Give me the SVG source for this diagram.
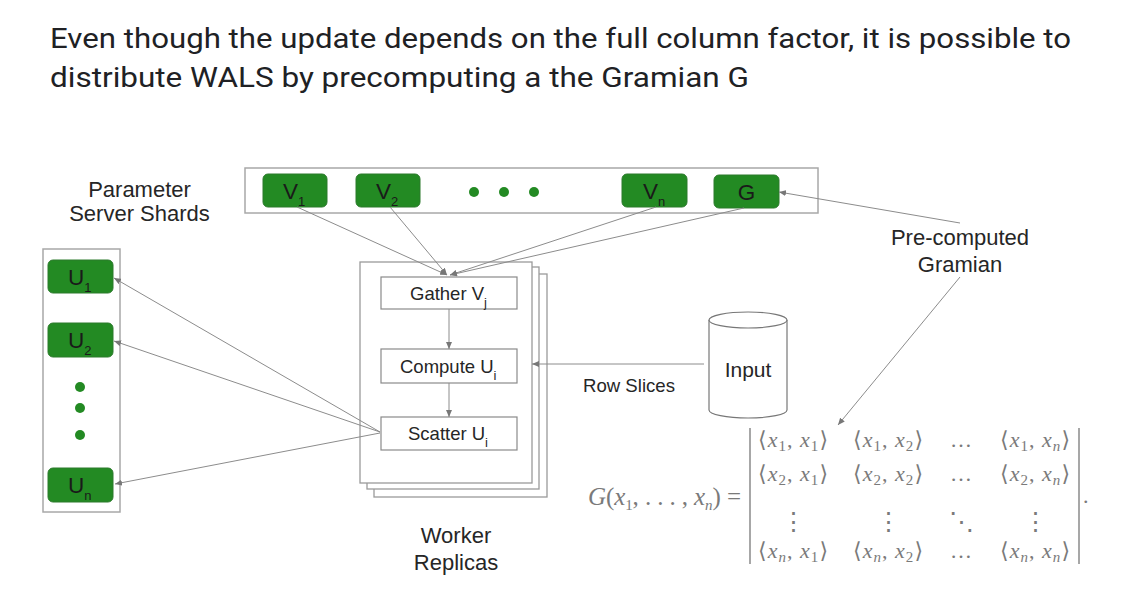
<svg xmlns="http://www.w3.org/2000/svg" width="1121" height="602" viewBox="0 0 1121 602">
<defs>
<style>
.title{font-family:Roboto,"Open Sans","Liberation Sans",sans-serif;font-size:27px;fill:#202124}
.lbl{font-family:"Liberation Sans",Arial,sans-serif;font-size:22px;fill:#262626}
.box{font-family:"Liberation Sans",Arial,sans-serif;font-size:18.5px;fill:#262626}
.gt{font-family:"Liberation Sans",Arial,sans-serif;font-size:22.5px;fill:#1a1a1a}
.sub{font-size:13px}
.green{fill:#238a23;stroke:#2d7a2d;stroke-width:1}
.frame{fill:none;stroke:#a8a8a8;stroke-width:1.5}
.page{fill:#fff;stroke:#9a9a9a;stroke-width:1.3}
.step{fill:#fff;stroke:#8a8a8a;stroke-width:1.2}
.dot{fill:#238a23}
.conn line{stroke:#8c8c8c;stroke-width:1;fill:none}
.m{font-family:"Liberation Serif","DejaVu Serif",serif;font-size:22px;fill:#7a7a7a}
.mi{font-style:italic}
.ms{font-size:15px}
.vd{font-family:"DejaVu Serif",serif;font-size:25px;fill:#7a7a7a}
.bar{stroke:#8a8a8a;stroke-width:1.5}
</style>
<marker id="ah" markerWidth="7" markerHeight="6" refX="7" refY="3" orient="auto" markerUnits="userSpaceOnUse">
<path d="M0,0 L7,3 L0,6 z" fill="#777"/>
</marker>
</defs>
<rect width="1121" height="602" fill="#fff"/>

<g id="title">
<text class="title" x="50" y="48" textLength="1021" lengthAdjust="spacingAndGlyphs">Even though the update depends on the full column factor, it is possible to</text>
<text class="title" x="50" y="87" textLength="699" lengthAdjust="spacingAndGlyphs">distribute WALS by precomputing a the Gramian G</text>
</g>

<g id="ps-label">
<text class="lbl" x="139.5" y="197" text-anchor="middle">Parameter</text>
<text class="lbl" x="139.5" y="221" text-anchor="middle">Server Shards</text>
</g>

<g id="v-shards">
<rect class="frame" x="245" y="168" width="573" height="45"/>
<g id="V1"><rect class="green" x="263" y="174" width="64" height="33" rx="5"/><text class="gt" x="283" y="199">V<tspan class="sub" dy="7">1</tspan></text></g>
<g id="V2"><rect class="green" x="356" y="174" width="64" height="33" rx="5"/><text class="gt" x="376" y="199">V<tspan class="sub" dy="7">2</tspan></text></g>
<g id="vdots"><circle class="dot" cx="474" cy="192" r="5"/><circle class="dot" cx="504" cy="192" r="5"/><circle class="dot" cx="534" cy="192" r="5"/></g>
<g id="Vn"><rect class="green" x="622" y="174" width="65" height="33" rx="5"/><text class="gt" x="643" y="199">V<tspan class="sub" dy="7">n</tspan></text></g>
<g id="G"><rect class="green" x="714" y="175" width="65" height="33" rx="5"/><text class="gt" x="746.5" y="200" text-anchor="middle">G</text></g>
</g>

<g id="u-shards">
<rect class="frame" x="43" y="249" width="77" height="263"/>
<g id="U1"><rect class="green" x="48" y="260" width="65" height="33" rx="5"/><text class="gt" x="68" y="285">U<tspan class="sub" dy="7">1</tspan></text></g>
<g id="U2"><rect class="green" x="48" y="323" width="65" height="34" rx="5"/><text class="gt" x="68" y="348">U<tspan class="sub" dy="7">2</tspan></text></g>
<g id="udots"><circle class="dot" cx="80" cy="387" r="5"/><circle class="dot" cx="80" cy="408" r="5"/><circle class="dot" cx="80" cy="435" r="5"/></g>
<g id="Un"><rect class="green" x="48" y="468" width="65" height="34" rx="5"/><text class="gt" x="68" y="493">U<tspan class="sub" dy="7">n</tspan></text></g>
</g>

<g id="workers">
<rect class="page" x="374" y="274" width="173" height="223"/>
<rect class="page" x="367" y="267" width="172" height="222"/>
<rect class="page" x="360" y="262" width="172" height="221"/>
<g id="gather"><rect class="step" x="381" y="277" width="136" height="32"/><text class="box" x="410" y="300">Gather V<tspan class="sub" dy="7">j</tspan></text></g>
<g id="compute"><rect class="step" x="381" y="349" width="136" height="34"/><text class="box" x="400" y="373">Compute U<tspan class="sub" dy="7">i</tspan></text></g>
<g id="scatter"><rect class="step" x="381" y="417" width="136" height="33"/><text class="box" x="408" y="440">Scatter U<tspan class="sub" dy="7">i</tspan></text></g>
</g>

<g id="worker-label">
<text class="lbl" x="456" y="543" text-anchor="middle">Worker</text>
<text class="lbl" x="456" y="570" text-anchor="middle">Replicas</text>
</g>

<g id="input">
<path d="M709,320 L709,410 A39,8 0 0 0 787,410 L787,320" fill="#fff" stroke="#777" stroke-width="1.2"/>
<ellipse cx="748" cy="320" rx="39" ry="8" fill="#fff" stroke="#777" stroke-width="1.2"/>
<text class="lbl" x="748" y="377" text-anchor="middle" style="font-size:21px">Input</text>
</g>

<g id="row-slices-label">
<text class="lbl" x="583" y="392" style="font-size:18.6px">Row Slices</text>
</g>

<g id="gramian-label">
<text class="lbl" x="960" y="245" text-anchor="middle">Pre-computed</text>
<text class="lbl" x="960" y="272" text-anchor="middle">Gramian</text>
</g>

<g id="connectors" class="conn">
<line x1="297" y1="207" x2="447" y2="275" marker-end="url(#ah)"/>
<line x1="390" y1="207" x2="447" y2="275" marker-end="url(#ah)"/>
<line x1="656" y1="207" x2="450" y2="275" marker-end="url(#ah)"/>
<line x1="744" y1="208" x2="450" y2="275" marker-end="url(#ah)"/>
<line x1="449" y1="309" x2="449" y2="349" marker-end="url(#ah)"/>
<line x1="449" y1="383" x2="449" y2="417" marker-end="url(#ah)"/>
<line x1="704" y1="364" x2="532" y2="364" marker-end="url(#ah)"/>
<line x1="380" y1="432" x2="114" y2="278" marker-end="url(#ah)"/>
<line x1="380" y1="432" x2="114" y2="341" marker-end="url(#ah)"/>
<line x1="380" y1="433" x2="115" y2="484" marker-end="url(#ah)"/>
<line x1="960" y1="223" x2="779" y2="192" marker-end="url(#ah)"/>
<line x1="960" y1="277" x2="838" y2="425" marker-end="url(#ah)"/>
</g>

<g id="gramian-matrix">
<text class="m" x="588" y="505" textLength="153" style="font-size:25px"><tspan class="mi">G</tspan>(<tspan class="mi">x</tspan><tspan class="ms" dy="5">1</tspan><tspan dy="-5">, . . . , </tspan><tspan class="mi">x</tspan><tspan class="ms mi" dy="5">n</tspan><tspan dy="-5">) =</tspan></text>
<line class="bar" x1="750" y1="428" x2="750" y2="564"/>
<line class="bar" x1="1079" y1="428" x2="1079" y2="564"/>
<text class="m" x="1083" y="503">.</text>

<text class="m" x="758" y="447" textLength="70">⟨<tspan class="mi">x</tspan><tspan class="ms" dy="4">1</tspan><tspan dy="-4">, </tspan><tspan class="mi">x</tspan><tspan class="ms" dy="4">1</tspan><tspan dy="-4">⟩</tspan></text>
<text class="m" x="853" y="447" textLength="70">⟨<tspan class="mi">x</tspan><tspan class="ms" dy="4">1</tspan><tspan dy="-4">, </tspan><tspan class="mi">x</tspan><tspan class="ms" dy="4">2</tspan><tspan dy="-4">⟩</tspan></text>
<text class="m" x="950" y="447" textLength="23">…</text>
<text class="m" x="1000" y="447" textLength="70">⟨<tspan class="mi">x</tspan><tspan class="ms" dy="4">1</tspan><tspan dy="-4">, </tspan><tspan class="mi">x</tspan><tspan class="ms mi" dy="4">n</tspan><tspan dy="-4">⟩</tspan></text>

<text class="m" x="758" y="481" textLength="70">⟨<tspan class="mi">x</tspan><tspan class="ms" dy="4">2</tspan><tspan dy="-4">, </tspan><tspan class="mi">x</tspan><tspan class="ms" dy="4">1</tspan><tspan dy="-4">⟩</tspan></text>
<text class="m" x="853" y="481" textLength="70">⟨<tspan class="mi">x</tspan><tspan class="ms" dy="4">2</tspan><tspan dy="-4">, </tspan><tspan class="mi">x</tspan><tspan class="ms" dy="4">2</tspan><tspan dy="-4">⟩</tspan></text>
<text class="m" x="950" y="481" textLength="23">…</text>
<text class="m" x="1000" y="481" textLength="70">⟨<tspan class="mi">x</tspan><tspan class="ms" dy="4">2</tspan><tspan dy="-4">, </tspan><tspan class="mi">x</tspan><tspan class="ms mi" dy="4">n</tspan><tspan dy="-4">⟩</tspan></text>

<text class="vd" x="793" y="530" text-anchor="middle">⋮</text>
<text class="vd" x="888" y="530" text-anchor="middle">⋮</text>
<text class="vd" x="961" y="530" text-anchor="middle">⋱</text>
<text class="vd" x="1035" y="530" text-anchor="middle">⋮</text>

<text class="m" x="758" y="558" textLength="70">⟨<tspan class="mi">x</tspan><tspan class="ms mi" dy="4">n</tspan><tspan dy="-4">, </tspan><tspan class="mi">x</tspan><tspan class="ms" dy="4">1</tspan><tspan dy="-4">⟩</tspan></text>
<text class="m" x="853" y="558" textLength="70">⟨<tspan class="mi">x</tspan><tspan class="ms mi" dy="4">n</tspan><tspan dy="-4">, </tspan><tspan class="mi">x</tspan><tspan class="ms" dy="4">2</tspan><tspan dy="-4">⟩</tspan></text>
<text class="m" x="950" y="558" textLength="23">…</text>
<text class="m" x="1000" y="558" textLength="70">⟨<tspan class="mi">x</tspan><tspan class="ms mi" dy="4">n</tspan><tspan dy="-4">, </tspan><tspan class="mi">x</tspan><tspan class="ms mi" dy="4">n</tspan><tspan dy="-4">⟩</tspan></text>
</g>
</svg>
